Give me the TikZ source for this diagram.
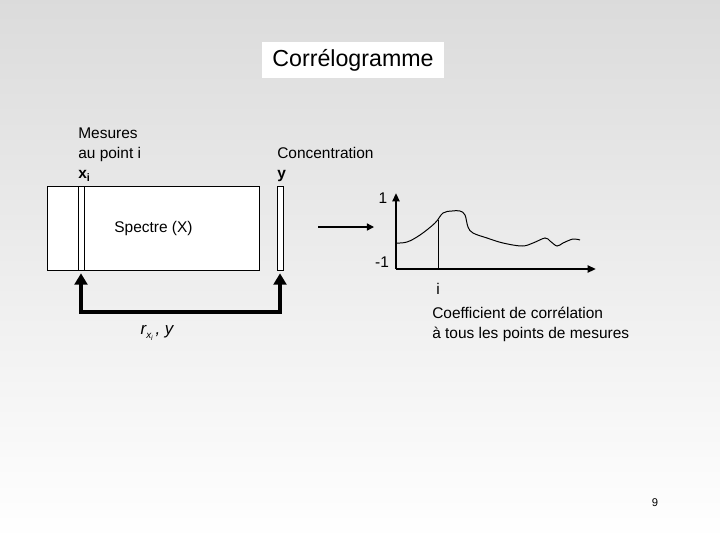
\documentclass[tikz,border=0pt]{standalone}
\usepackage{fontspec}
\setmainfont{Liberation Sans}
\usetikzlibrary{arrows.meta,positioning,calc}

\begin{document}
\begin{tikzpicture}[x=0.025cm,y=-0.025cm,
  lbl/.style={font=\fontsize{11}{14.2}\selectfont,inner sep=0pt,align=left},
  box/.style={draw,fill=white,line width=0.7pt,inner sep=0pt},
  strip/.style={box,minimum width=0.15cm,minimum height=2.1cm},
  axis/.style={line width=1.8pt,-{Triangle[width=5pt,length=6pt]}},
  link/.style={line width=3.5pt,{Triangle[width=9pt,length=8pt]}-{Triangle[width=9pt,length=8pt]},shorten <=2pt,shorten >=2pt}]
\useasboundingbox (0,0) rectangle (720,540);
\shade[top color=black!14,middle color=black!5,bottom color=white] (0,0) rectangle (720,540);

% titre
\node (titre) [fill=white,minimum width=4.55cm,minimum height=0.9cm,inner sep=0pt,
  font=\fontsize{16.5}{20}\selectfont] at (353,60) {Corrélogramme};

% matrice des spectres
\node (spectre) [box,minimum width=5.275cm,minimum height=2.1cm,lbl] at (153.5,228) {Spectre (X)};
\node (xi) [strip] at (81,228) {};
\node (ycol) [strip] at (280,228) {};

\node (mesures) [lbl,anchor=north west] at (78,128) {Mesures\\au point i\\\textbf{x\textsubscript{i}}};
\node (conc) [lbl,anchor=north west] at (277,147) {Concentration\\\textbf{y}};

% correlation
\coordinate (coude) at (180,312);
\draw[link] (xi.south) |- (coude) -| (ycol.south);
\node (rxy) [lbl,font=\fontsize{12}{14}\selectfont\itshape] at (157,333)
  {r\raisebox{-0.45ex}{\scriptsize x\raisebox{-0.4ex}{\tiny i}}\,, y};

\coordinate (fg) at (318,227);
\coordinate (fd) at (374,227);
\draw[line width=1pt,-{Triangle[width=5pt,length=5pt]}] (fg) -- (fd);

% correlogramme
\coordinate (o) at (396,269);
\coordinate (ymax) at (396,193);
\coordinate (xmax) at (596,269);
\draw[axis] (o) -- (ymax);
\draw[axis] (o) -- (xmax);
\node (un) [lbl] at (383,198) {1};
\node (moinsun) [lbl] at (382,262) {-1};

\draw[line width=0.7pt] plot[smooth,tension=0.6] coordinates {
  (396,243) (407,242) (420,235) (435,223) (443,213) (452,211) (460,211)
  (465,215) (468,227) (473,233) (487,238) (503,243) (522,246) (533,243)
  (545,238) (550,241) (557,246) (563,243) (573,239) (580,240)};
\coordinate (pi) at (438,219.5);
\coordinate (pibas) at (438,269);
\draw[line width=0.7pt] (pi) -- (pibas);
\node (i) [lbl] at (438,289) {i};

\node (coef) [lbl,anchor=north west] at (432,307)
  {Coefficient de corrélation\\à tous les points de mesures};

\node (page) [lbl,font=\fontsize{8}{10}\selectfont] at (655,503) {9};
\end{tikzpicture}
\end{document}
